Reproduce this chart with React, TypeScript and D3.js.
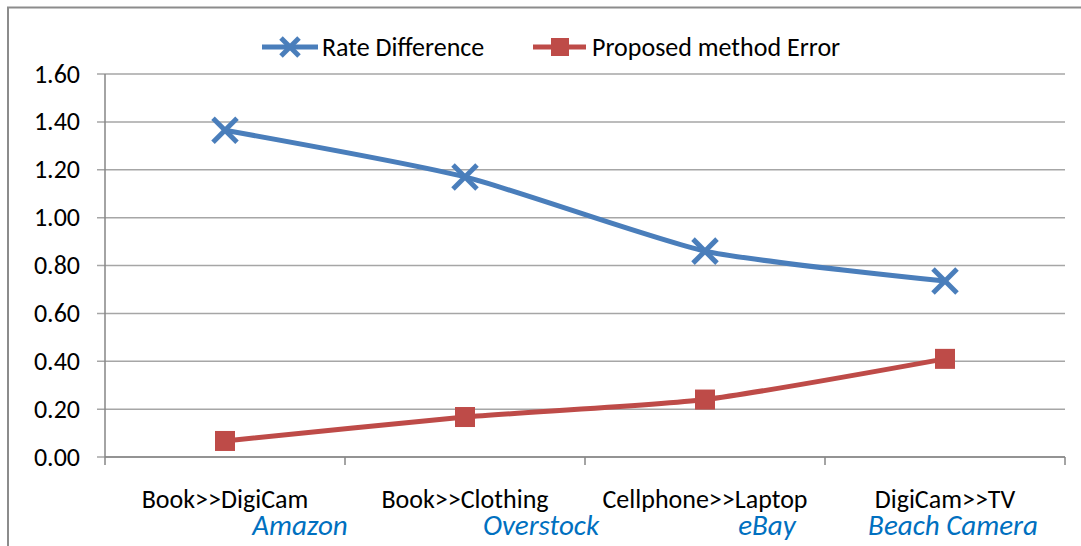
import React from "react";
import * as d3 from "d3";

const categories = ["Book>>DigiCam", "Book>>Clothing", "Cellphone>>Laptop", "DigiCam>>TV"];
const sites = ["Amazon", "Overstock", "eBay", "Beach Camera"];
const rateDifference = [1.365, 1.17, 0.86, 0.735];
const proposedError = [0.067, 0.167, 0.24, 0.41];
const yTicks = [0, 0.2, 0.4, 0.6, 0.8, 1.0, 1.2, 1.4, 1.6];
const seriesNames = ["Rate Difference", "Proposed method Error"];

// layout for the site annotations (text boxes in the original)
const siteX = [300, 541, 767, 953];

const W = 1081;
const H = 546;
const left = 105, right = 1065, top = 74, bottom = 457;
const FONT = "Carlito, Calibri, 'Open Sans', Lato, sans-serif";
const BLUE = "#4A7EBB";
const RED = "#BE4B48";

export default function App() {
  const x = d3.scaleBand<string>().domain(categories).range([left, right]);
  const y = d3.scaleLinear().domain([0, 1.6]).range([bottom, top]);
  const cx = (c: string) => (x(c) as number) + x.bandwidth() / 2;

  const line = d3
    .line<number>()
    .x((_, i) => cx(categories[i]))
    .y((d) => y(d))
    .curve(d3.curveCardinal.tension(0.4));

  const xMark = (px: number, py: number, color: string, k: string) => {
    const s = 12;
    return (
      <g key={k} stroke={color} strokeWidth={5}>
        <line x1={px - s} y1={py - s} x2={px + s} y2={py + s} />
        <line x1={px - s} y1={py + s} x2={px + s} y2={py - s} />
      </g>
    );
  };
  const sq = (px: number, py: number, color: string, k: string) => (
    <rect key={k} x={px - 10} y={py - 10} width={20} height={20} fill={color} />
  );

  const boundaries = [left, ...categories.map((c) => (x(c) as number) + x.bandwidth())];

  return (
    <svg
      width={W}
      height={H}
      style={{ position: "absolute", left: 0, top: 0, display: "block" }}
      fontFamily={FONT}
    >
      <rect x={0} y={0} width={W} height={H} fill="#fff" />
      <rect x={8} y={7.5} width={W + 10} height={H + 10} fill="none" stroke="#8c8c8c" strokeWidth={2} />

      {/* gridlines */}
      {yTicks.map((t) => (
        <line key={t} x1={left - 8} x2={right} y1={y(t)} y2={y(t)} stroke="#a6a6a6" strokeWidth={1.5} />
      ))}
      {/* axes */}
      <line x1={left} x2={left} y1={top} y2={bottom} stroke="#868686" strokeWidth={1.5} />
      <line x1={left} x2={right} y1={bottom} y2={bottom} stroke="#868686" strokeWidth={1.5} />
      {boundaries.map((b, i) => (
        <line key={i} x1={b} x2={b} y1={bottom} y2={bottom + 8} stroke="#868686" strokeWidth={1.5} />
      ))}

      {/* y tick labels */}
      {yTicks.map((t) => (
        <text key={t} x={80} y={y(t)} dy="0.33em" textAnchor="end" fontSize={26} fill="#000">
          {t.toFixed(2)}
        </text>
      ))}

      {/* category labels */}
      {categories.map((c) => (
        <text key={c} x={cx(c)} y={508} textAnchor="middle" fontSize={26} fill="#000">
          {c}
        </text>
      ))}
      {sites.map((s, i) => (
        <text key={s} x={siteX[i]} y={535} textAnchor="middle" fontSize={29} fontStyle="italic" fill="#0070C0">
          {s}
        </text>
      ))}

      {/* series */}
      <path d={line(rateDifference) || ""} fill="none" stroke={BLUE} strokeWidth={5} />
      <path d={line(proposedError) || ""} fill="none" stroke={RED} strokeWidth={5} />
      {rateDifference.map((v, i) => xMark(cx(categories[i]), y(v), BLUE, "b" + i))}
      {proposedError.map((v, i) => sq(cx(categories[i]), y(v), RED, "r" + i))}

      {/* legend */}
      <line x1={262} x2={318} y1={47} y2={47} stroke={BLUE} strokeWidth={5} />
      <g stroke={BLUE} strokeWidth={5}>
        <line x1={281} y1={38} x2={299} y2={56} />
        <line x1={281} y1={56} x2={299} y2={38} />
      </g>
      <text x={322} y={47} dy="0.33em" fontSize={26} fill="#000">{seriesNames[0]}</text>
      <line x1={533} x2={586} y1={47} y2={47} stroke={RED} strokeWidth={5} />
      <rect x={551} y={38} width={18} height={18} fill={RED} />
      <text x={592} y={47} dy="0.33em" fontSize={26} fill="#000">{seriesNames[1]}</text>
    </svg>
  );
}
